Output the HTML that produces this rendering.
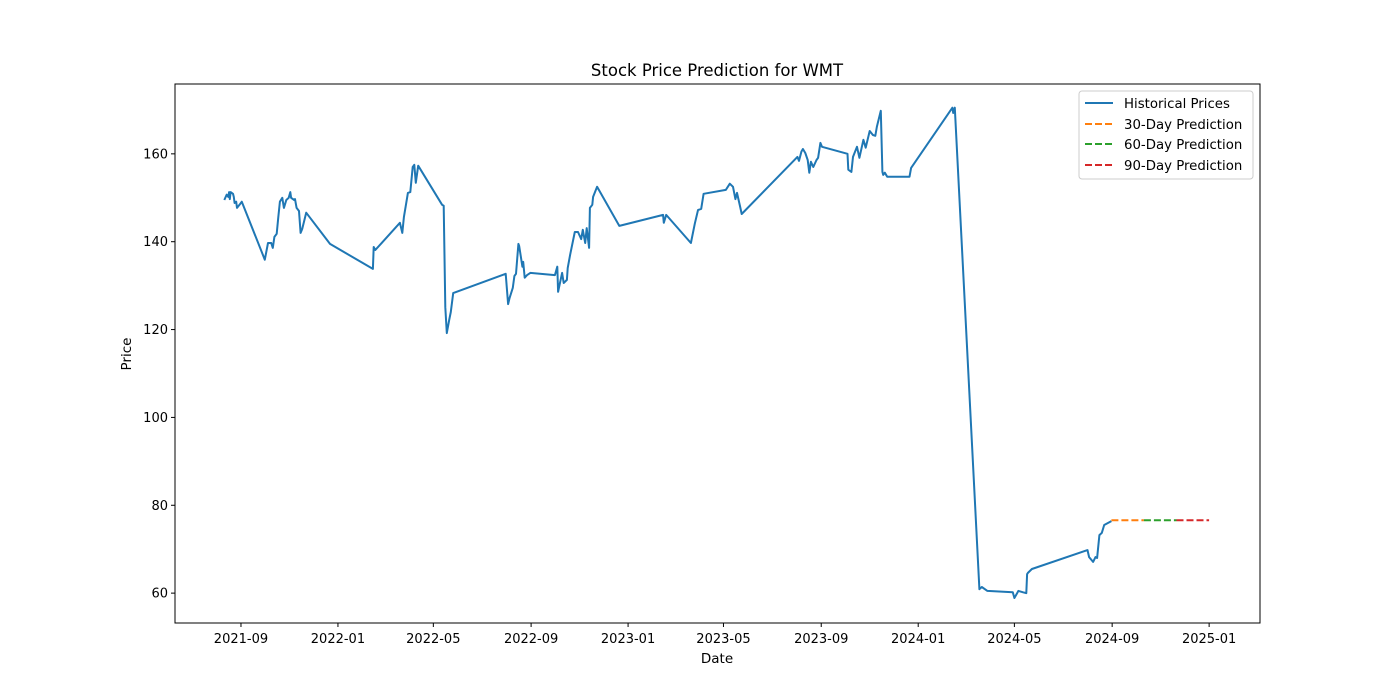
<!DOCTYPE html>
<html><head><meta charset="utf-8"><style>
html,body{margin:0;padding:0;background:#fff;}
svg{display:block;font-family:"DejaVu Sans","Liberation Sans",sans-serif;}
</style></head><body>
<svg id="chart" width="1400" height="700" viewBox="0 0 1400 700" xmlns="http://www.w3.org/2000/svg">
<rect x="0" y="0" width="1400" height="700" fill="#fff"/>
<text x="717" y="76" text-anchor="middle" font-size="16.5">Stock Price Prediction for WMT</text>
<text x="717" y="663" text-anchor="middle" font-size="13.5">Date</text>
<text transform="translate(131,354) rotate(-90)" text-anchor="middle" font-size="13.5">Price</text>
<g id="plot"></g>
<rect x="175" y="84" width="1085" height="539" fill="none" stroke="#000" stroke-width="1"/>
<g>
<rect x="1079" y="91" width="174" height="88" rx="3" fill="#fff" fill-opacity="0.8" stroke="#ccc"/>
<line x1="1085" y1="103" x2="1113" y2="103" stroke="#1f77b4" stroke-width="2"/>
<text x="1124" y="108" font-size="13.3">Historical Prices</text>
<line x1="1085" y1="124" x2="1113" y2="124" stroke="#ff7f0e" stroke-width="2" stroke-dasharray="7,3"/>
<text x="1124" y="129" font-size="13.3">30-Day Prediction</text>
<line x1="1085" y1="144" x2="1113" y2="144" stroke="#2ca02c" stroke-width="2" stroke-dasharray="7,3"/>
<text x="1124" y="149" font-size="13.3">60-Day Prediction</text>
<line x1="1085" y1="165" x2="1113" y2="165" stroke="#d62728" stroke-width="2" stroke-dasharray="7,3"/>
<text x="1124" y="170" font-size="13.3">90-Day Prediction</text>
</g>
</svg>
<script>
// days since 2021-09-01
const histDays = [-21,-18,-16,-15,-14,-13,-10,-9,-8,-6,-5,-1,1,30,34,38,40,42,45,47,49,52,54,57,60,62,63,67,68,70,73,75,77,82,112,166,167,169,200,203,205,209,210,213,216,218,220,223,253,255,257,259,262,264,267,333,336,338,342,344,346,349,350,354,355,357,360,364,395,398,399,404,406,410,411,414,420,424,428,430,433,435,438,439,442,443,448,476,531,532,535,566,571,575,579,582,610,615,619,622,624,628,630,700,702,705,707,710,713,715,717,720,724,726,729,731,763,764,768,770,775,778,783,786,791,795,798,800,805,807,808,810,813,841,843,895,896,898,929,932,939,971,973,978,984,988,989,990,995,1065,1067,1072,1075,1077,1080,1083,1086,1095];
const histPrices = [149.5,150.7,150.2,151.3,149.7,151.3,150.9,150.2,148.8,149.1,147.7,148.6,149.1,135.9,139.7,139.7,138.6,141.1,141.8,145.6,149.1,150.0,147.7,149.5,150.0,151.3,150.0,149.5,149.7,147.7,147.0,142.0,142.9,146.6,139.5,133.8,138.8,138.1,144.3,142.0,145.6,150.0,151.1,151.3,157.0,157.5,153.4,157.3,148.4,148.2,125.1,119.2,122.2,124.0,128.3,132.7,125.8,127.2,129.5,132.2,132.7,139.5,139.0,134.3,135.4,131.8,132.4,132.9,132.4,134.3,128.6,132.9,130.6,131.3,134.0,137.0,142.2,142.2,140.6,142.7,139.7,143.1,138.6,147.7,148.4,150.2,152.5,143.6,146.1,144.3,146.1,139.7,144.1,147.2,147.5,150.9,151.8,153.2,152.5,149.7,151.1,147.9,146.3,159.3,158.4,160.5,161.1,160.2,158.6,155.7,158.2,157.0,158.6,159.1,162.5,161.6,160.0,156.4,155.9,159.3,161.6,159.1,163.2,161.4,165.2,164.3,164.1,166.2,169.8,155.9,155.2,155.7,154.8,154.8,156.8,170.5,169.3,170.5,60.9,61.4,60.5,60.2,58.9,60.5,60.2,60.0,64.3,64.6,65.5,69.8,68.2,67.1,68.2,68.0,73.2,73.7,75.5,76.4];
const predDays30 = [1095,1136];
const predVals30 = [76.6,76.6];
const predDays60 = [1136,1177];
const predVals60 = [76.6,76.6];
const predDays90 = [1177,1218];
const predVals90 = [76.6,76.6];
const yTicks = [60,80,100,120,140,160];
const xTickDays = [0,122,242,365,487,607,730,852,973,1096,1218];
const xTickLabels = ["2021-09","2022-01","2022-05","2022-09","2023-01","2023-05","2023-09","2024-01","2024-05","2024-09","2025-01"];

const L=175,R=1260,T=84,B=623, dMin=-83, dMax=1282, pMin=53.2, pMax=175.9;
const xs=d=>L+(d-dMin)/(dMax-dMin)*(R-L);
const ys=p=>B-(p-pMin)/(pMax-pMin)*(B-T);
const NS="http://www.w3.org/2000/svg";
const g=document.getElementById('plot');
function mk(tag,attrs){const e=document.createElementNS(NS,tag);for(const k in attrs)e.setAttribute(k,attrs[k]);g.appendChild(e);return e;}
yTicks.forEach(v=>{
  const y=ys(v);
  const t=mk('line',{x1:L-4,x2:L,y1:y,y2:y,stroke:'#000'});
  
  
  const tx=mk('text',{x:L-7,y:y+4.5,'text-anchor':'end','font-size':'13'});
  tx.textContent=v;
  
  
});
xTickDays.forEach((d,i)=>{
  const x=xs(d);
  const t=mk('line',{x1:x,x2:x,y1:B,y2:B+4,stroke:'#000'});
  
  
  const tx=mk('text',{x:x,y:B+20,'text-anchor':'middle','font-size':'13'});
  tx.textContent=xTickLabels[i];
  
  
});
function line(days,vals,color,dash,name){
  const pts=days.map((d,i)=>xs(d).toFixed(1)+','+ys(vals[i]).toFixed(1)).join(' ');
  const a={points:pts,fill:'none',stroke:color,'stroke-width':2,'stroke-linejoin':'round'};
  if(dash)a['stroke-dasharray']=dash;
  const p=mk('polyline',a);
  
  
}
line(histDays,histPrices,'#1f77b4',null,'historical-prices-line');
line(predDays30,predVals30,'#ff7f0e','7,3','prediction-30-day-line');
line(predDays60,predVals60,'#2ca02c','7,3','prediction-60-day-line');
line(predDays90,predVals90,'#d62728','7,3','prediction-90-day-line');
</script>
</body></html>
